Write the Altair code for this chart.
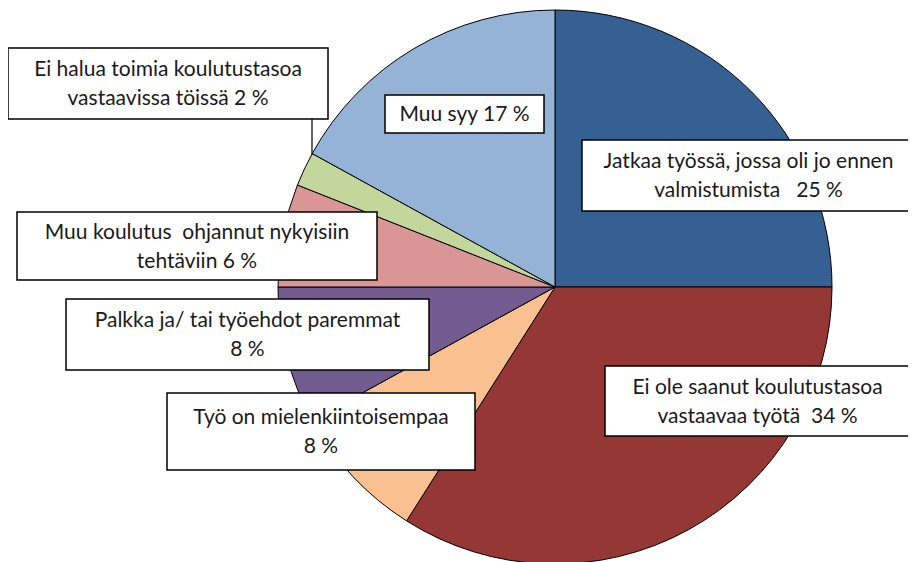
import altair as alt
import pandas as pd

NB = "\u00a0"
categories = [
    "Jatkaa työssä, jossa oli jo ennen valmistumista",
    "Ei ole saanut koulutustasoa vastaavaa työtä",
    "Työ on mielenkiintoisempaa",
    "Palkka ja/ tai työehdot paremmat",
    "Muu koulutus  ohjannut nykyisiin tehtäviin",
    "Ei halua toimia koulutustasoa vastaavissa töissä",
    "Muu syy",
]
values = [25, 34, 8, 8, 6, 2, 17]
label_texts = [
    ["Jatkaa työssä, jossa oli jo ennen", "valmistumista " + NB + NB + "25 %"],
    ["Ei ole saanut koulutustasoa", "vastaavaa työtä " + NB + "34 %"],
    ["Työ on mielenkiintoisempaa", "8 %"],
    ["Palkka ja/ tai työehdot paremmat", "8 %"],
    ["Muu koulutus " + NB + "ohjannut nykyisiin", "tehtäviin 6 %"],
    ["Ei halua toimia koulutustasoa", "vastaavissa töissä 2 %"],
    ["Muu syy 17 %"],
]
colors = ["#376092", "#953735", "#FAC090", "#715B8F", "#D99694", "#C3D69B", "#95B3D7"]

# layout (page pixel coordinates; page offset 8px)
OFF = 8
LH = 29
boxes = [
    (582, 140, 915, 211),
    (605, 366, 910, 436),
    (167, 393, 475, 470),
    (66, 299, 429, 370),
    (17, 212, 377, 280),
    (8, 48, 328, 119),
    (385, 95, 544, 133),
]
cx, cy, R = 555 - OFF, 287 - OFF, 277

pie_df = pd.DataFrame({"cat": categories, "val": values, "idx": list(range(len(values)))})

box_df = pd.DataFrame({
    "x1": [b[0] - OFF for b in boxes],
    "y1": [b[1] - OFF for b in boxes],
    "x2": [b[2] - OFF for b in boxes],
    "y2": [b[3] - OFF for b in boxes],
    "tx": [(b[0] + b[2]) / 2 - OFF for b in boxes],
    "ty": [(b[1] + b[3]) / 2 - OFF + 1 - (len(t) - 1) * LH / 2 for b, t in zip(boxes, label_texts)],
    "label": label_texts,
})

FONT = "Lato"

pie = alt.Chart(pie_df).mark_arc(radius=R, stroke="black", strokeWidth=1).encode(
    theta=alt.Theta("val:Q", stack=True),
    order=alt.Order("idx:Q"),
    color=alt.Color("cat:N", scale=alt.Scale(domain=categories, range=colors), legend=None),
    x=alt.value(cx),
    y=alt.value(cy),
)

leader = alt.Chart(pd.DataFrame({"a": [0]})).mark_rule(color="black", strokeWidth=1.2).encode(
    x=alt.value(312 - OFF), y=alt.value(119 - OFF), y2=alt.value(155 - OFF)
)

rects = alt.Chart(box_df).mark_rect(fill="white", stroke="black", strokeWidth=1.5).encode(
    x=alt.X("x1:Q", scale=None), x2="x2:Q",
    y=alt.Y("y1:Q", scale=None), y2="y2:Q",
)

texts = alt.Chart(box_df).mark_text(
    font=FONT, fontSize=21, color="#1a1a1a", align="center", baseline="middle", lineHeight=LH
).encode(
    x=alt.X("tx:Q", scale=None),
    y=alt.Y("ty:Q", scale=None),
    text="label",
)

chart = alt.layer(pie, leader, rects, texts).properties(
    width=900, height=554,
    autosize=alt.AutoSizeParams(type="none"),
    padding=0,
).configure_view(stroke=None)

chart.save("out.html", embed_options={"renderer": "svg", "actions": False})
